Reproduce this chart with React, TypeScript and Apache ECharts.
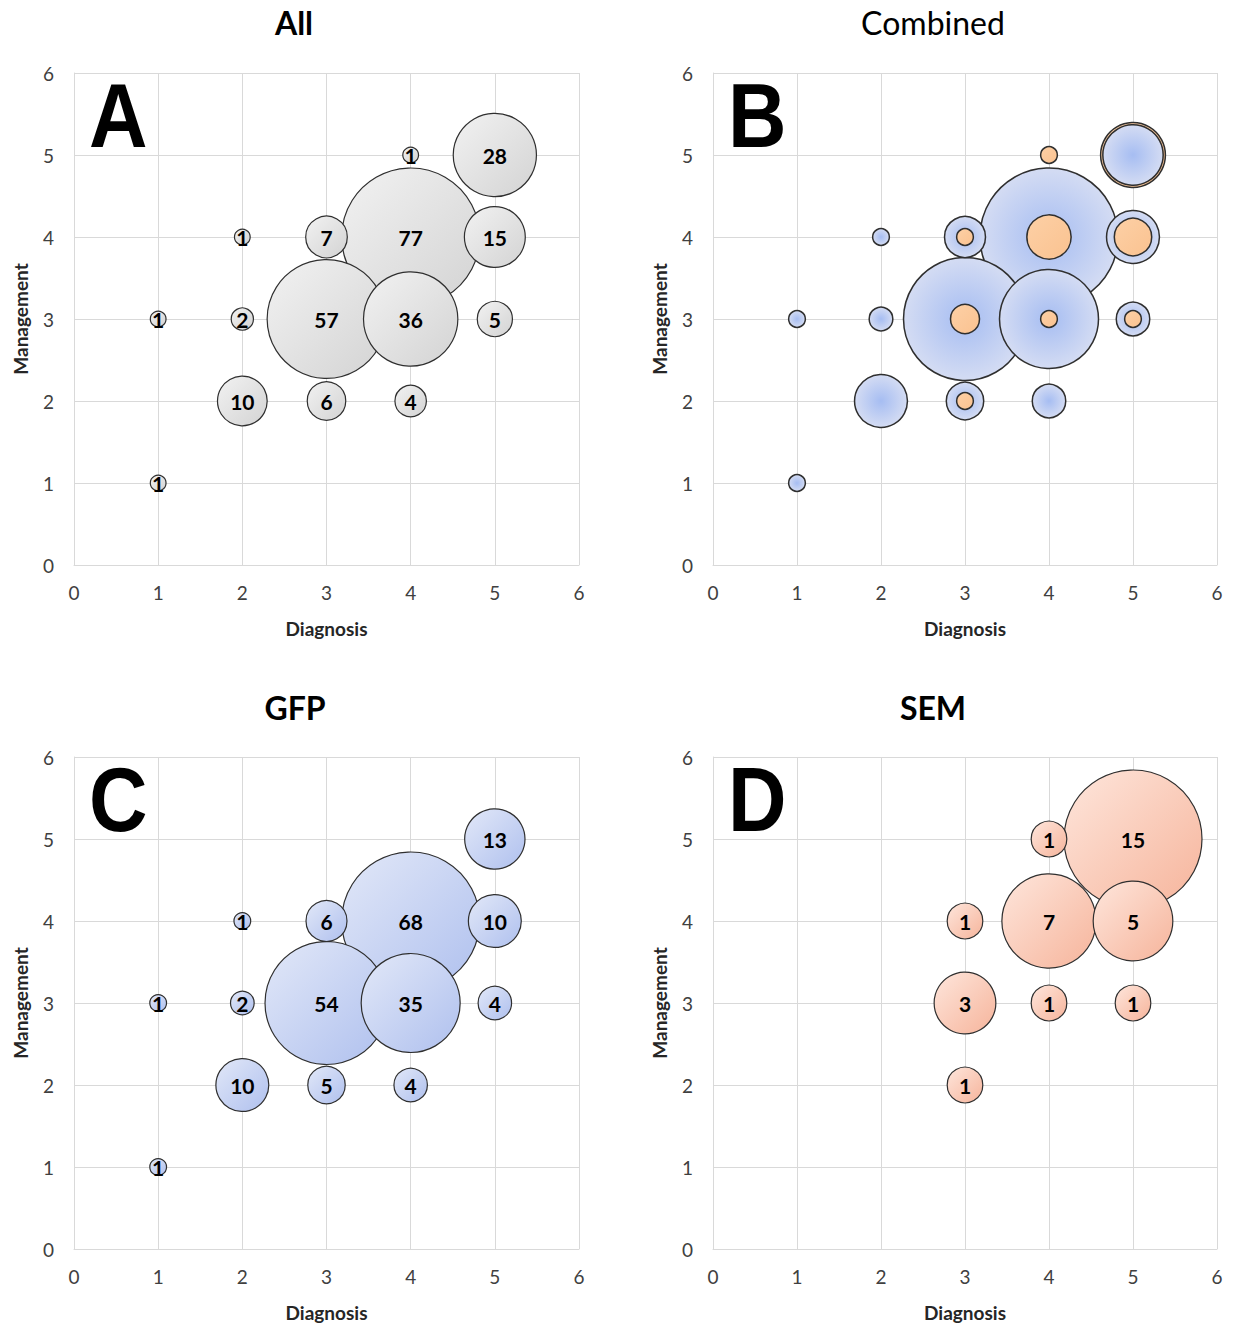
import React, { useEffect, useRef } from 'react';
import * as echarts from 'echarts';

// [Diagnosis, Management, count]
const allData: number[][] = [
  [1, 1, 1], [1, 3, 1], [2, 2, 10], [2, 3, 2], [2, 4, 1], [3, 2, 6], [3, 3, 57], [3, 4, 7],
  [4, 2, 4], [4, 3, 36], [4, 4, 77], [4, 5, 1], [5, 3, 5], [5, 4, 15], [5, 5, 28],
];
const gfpData: number[][] = [
  [1, 1, 1], [1, 3, 1], [2, 2, 10], [2, 3, 2], [2, 4, 1], [3, 2, 5], [3, 3, 54], [3, 4, 6],
  [4, 2, 4], [4, 3, 35], [4, 4, 68], [5, 3, 4], [5, 4, 10], [5, 5, 13],
];
const semData: number[][] = [
  [3, 2, 1], [3, 3, 3], [3, 4, 1], [4, 3, 1], [4, 4, 7], [4, 5, 1], [5, 3, 1], [5, 4, 5], [5, 5, 15],
];
const panelTitles = ['All', 'Combined', 'GFP', 'SEM'];
const panelLetters = ['A', 'B', 'C', 'D'];
const axisMin = 0;
const axisMax = 6;
const axisInterval = 1;

const FONT = 'Lato, "Open Sans", sans-serif';
const MAX_D = 138;

const lin = (c1: string, c2: string) => ({
  type: 'linear', x: 0, y: 0, x2: 1, y2: 1,
  colorStops: [{ offset: 0, color: c1 }, { offset: 1, color: c2 }],
});
const rad = (c1: string, c2: string) => ({
  type: 'radial', x: 0.5, y: 0.5, r: 0.5,
  colorStops: [{ offset: 0, color: c1 }, { offset: 1, color: c2 }],
});

const grayFill = lin('#f2f2f2', '#d3d3d3');
const blueFill = lin('#e2e8f8', '#afc0ee');
const peachFill = lin('#fee6dc', '#f6b49b');
const blueRadial = rad('#a6bdf2', '#d4dcf3');
const orangeFill = lin('#fdd0a6', '#fac290');

const grids = [
  { left: 74, top: 73, width: 505, height: 492 },
  { left: 713, top: 73, width: 504, height: 492 },
  { left: 74, top: 757, width: 505, height: 492 },
  { left: 713, top: 757, width: 504, height: 492 },
];
const titlePos = [
  { x: 294, y: 22, weight: 'bold' },
  { x: 933, y: 22, weight: 'normal' },
  { x: 295, y: 707, weight: 'bold' },
  { x: 933, y: 707, weight: 'bold' },
];

function items(data: number[][], fill: any, maxV: number, border: number) {
  return data.map((d) => ({
    value: d,
    symbolSize: MAX_D * Math.sqrt(d[2] / maxV),
    itemStyle: { color: fill, borderColor: '#2f2f2f', borderWidth: border, opacity: 1 },
  }));
}

export default function App() {
  const ref = useRef<HTMLDivElement>(null);
  useEffect(() => {
    document.body.style.margin = '0';
    const chart = echarts.init(ref.current!, undefined, { renderer: 'svg' });

    const maxAll = Math.max(...allData.map((d) => d[2]));
    const maxGfp = Math.max(...gfpData.map((d) => d[2]));
    const maxSem = Math.max(...semData.map((d) => d[2]));
    const maxComb = Math.max(maxGfp, maxSem);

    const panelItems = [
      items(allData, grayFill, maxAll, 1.2),
      [...items(gfpData, blueRadial, maxComb, 1.5), ...items(semData, orangeFill, maxComb, 1.5)],
      items(gfpData, blueFill, maxGfp, 1.2),
      items(semData, peachFill, maxSem, 1.2),
    ].map((arr) => arr.sort((a, b) => b.symbolSize - a.symbolSize));

    const xAxes = grids.map((_, i) => ({
      gridIndex: i, type: 'value', min: axisMin, max: axisMax, interval: axisInterval,
      name: 'Diagnosis', nameLocation: 'middle', nameGap: 54,
      nameTextStyle: { fontWeight: 'bold', fontSize: 19, color: '#262626', fontFamily: FONT },
      axisLine: { show: true, lineStyle: { color: '#d9d9d9', width: 1 } },
      axisTick: { show: false },
      axisLabel: { fontSize: 19, color: '#404040', margin: 18, fontFamily: FONT },
      splitLine: { show: true, lineStyle: { color: '#d9d9d9', width: 1 } },
    }));
    const yAxes = grids.map((_, i) => ({
      gridIndex: i, type: 'value', min: axisMin, max: axisMax, interval: axisInterval,
      name: 'Management', nameLocation: 'middle', nameGap: 44,
      nameTextStyle: { fontWeight: 'bold', fontSize: 19, color: '#262626', fontFamily: FONT },
      axisLine: { show: true, lineStyle: { color: '#d9d9d9', width: 1 } },
      axisTick: { show: false },
      axisLabel: { fontSize: 19, color: '#404040', margin: 20, fontFamily: FONT },
      splitLine: { show: true, lineStyle: { color: '#d9d9d9', width: 1 } },
    }));

    const series = panelItems.map((data, i) => ({
      type: 'scatter',
      xAxisIndex: i,
      yAxisIndex: i,
      data,
      itemStyle: { opacity: 1 },
      label: {
        show: i !== 1,
        position: 'inside',
        formatter: (p: any) => String(p.value[2]),
        fontSize: 21,
        fontWeight: 'bold',
        color: '#000',
        fontFamily: FONT,
        textBorderWidth: 0,
      },
      emphasis: { disabled: true },
    }));

    const graphics: any[] = [];
    titlePos.forEach((t, i) => {
      graphics.push({
        type: 'text', x: t.x, y: t.y,
        style: {
          text: panelTitles[i], fontSize: 32, fontWeight: t.weight, fontFamily: FONT,
          fill: '#000', align: 'center', verticalAlign: 'middle',
        },
      });
    });
    grids.forEach((g, i) => {
      graphics.push({
        type: 'text', x: g.left + 15, y: g.top + 42, scaleX: 0.9,
        style: {
          text: panelLetters[i], fontSize: 90, fontWeight: 'bold',
          fontFamily: '"Liberation Sans", Arial, sans-serif',
          fill: '#000', align: 'left', verticalAlign: 'middle',
        },
        z: 100,
      });
    });

    chart.setOption({
      animation: false,
      backgroundColor: '#fff',
      grid: grids,
      xAxis: xAxes,
      yAxis: yAxes,
      series,
      graphic: graphics,
    });
    return () => chart.dispose();
  }, []);
  return <div ref={ref} style={{ width: 1238, height: 1330 }} />;
}
